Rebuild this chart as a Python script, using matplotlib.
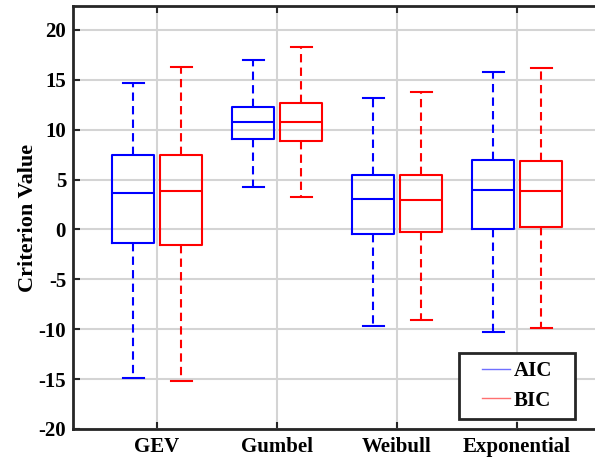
import matplotlib
matplotlib.use('Agg')
import matplotlib.pyplot as plt
from matplotlib.lines import Line2D
from matplotlib.patches import Rectangle

plt.rcParams['font.family'] = ['Liberation Serif', 'DejaVu Serif']
plt.rcParams['font.weight'] = 'bold'
plt.rcParams['axes.unicode_minus'] = False

# Box statistics per distribution: whisker low, Q1, median, Q3, whisker high
models = ['GEV', 'Gumbel', 'Weibull', 'Exponential']

aic_low = [-14.9, 4.3, -9.7, -10.3]
aic_q1 = [-1.4, 9.1, -0.5, 0.0]
aic_med = [3.7, 10.8, 3.1, 4.0]
aic_q3 = [7.5, 12.3, 5.5, 7.0]
aic_high = [14.7, 17.0, 13.2, 15.8]

bic_low = [-15.2, 3.3, -9.1, -9.9]
bic_q1 = [-1.6, 8.9, -0.3, 0.2]
bic_med = [3.9, 10.8, 3.0, 3.9]
bic_q3 = [7.5, 12.7, 5.5, 6.9]
bic_high = [16.3, 18.3, 13.8, 16.2]


def make_stats(low, q1, med, q3, high):
    return [dict(whislo=a, q1=b, med=c, q3=d, whishi=e, fliers=[])
            for a, b, c, d, e in zip(low, q1, med, q3, high)]


fig = plt.figure(figsize=(5.95, 4.59), dpi=100)
ax = fig.add_axes([0.1227, 0.0654, 0.8874, 0.9216])

centers = list(range(1, len(models) + 1))
dash = (0, (4, 2.5))

for stats, color, offset in [(make_stats(aic_low, aic_q1, aic_med, aic_q3, aic_high), 'blue', -0.2),
                             (make_stats(bic_low, bic_q1, bic_med, bic_q3, bic_high), 'red', 0.2)]:
    ax.bxp(stats, positions=[c + offset for c in centers], widths=0.35,
           showfliers=False, manage_ticks=False,
           boxprops=dict(color=color, linewidth=1.5),
           medianprops=dict(color=color, linewidth=1.5),
           whiskerprops=dict(color=color, linewidth=1.5, linestyle=dash),
           capprops=dict(color=color, linewidth=1.5),
           capwidths=0.175)

ax.set_xlim(0.3, 4.7)
ax.set_ylim(-20, 22.4)
ax.set_xticks(centers)
ax.set_xticklabels(models)
ax.set_yticks(range(-20, 21, 5))
ax.tick_params(axis='y', labelsize=15, direction='in', length=5, width=1.5,
               colors='#262626', labelcolor='black', pad=5)
ax.tick_params(axis='x', labelsize=15, direction='in', length=5, width=1.5, top=True,
               colors='#262626', labelcolor='black', pad=6)

ax.grid(True, color='#d4d4d4', linewidth=1.5)
ax.set_axisbelow(True)
for side in ['left', 'bottom', 'top', 'right']:
    ax.spines[side].set_linewidth(2)
    ax.spines[side].set_color('#262626')

ax.set_ylabel('Criterion Value', fontsize=16, fontweight='bold', labelpad=0)

# legend frame drawn as its own box so the padding can be wider than tall
ax.add_patch(Rectangle((0.731, 0.0236), 0.22, 0.156, transform=ax.transAxes,
                       facecolor='white', edgecolor='#262626', linewidth=2, zorder=5))
handles = [Line2D([], [], color='#7070ff', linewidth=1),
           Line2D([], [], color='#ff7070', linewidth=1)]
leg = ax.legend(handles, ['AIC', 'BIC'], loc='center',
                bbox_to_anchor=(0.841, 0.1017), frameon=False,
                prop=dict(weight='bold', size=15), handlelength=1.35,
                handletextpad=0.15, borderpad=0, labelspacing=0.45)
leg.set_zorder(6)

fig.savefig('out.png', dpi=100)
